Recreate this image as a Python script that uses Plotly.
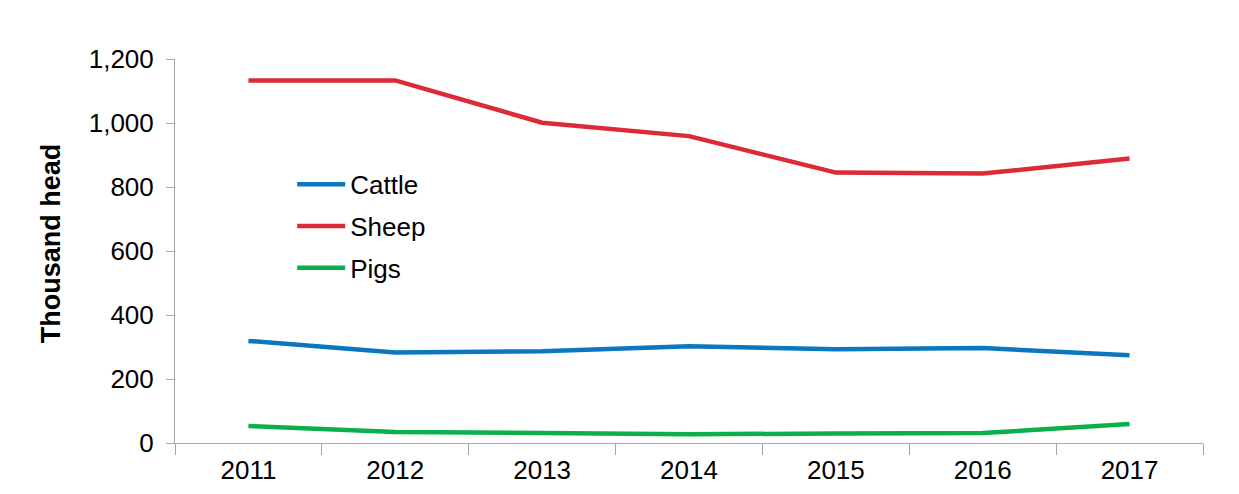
import plotly.graph_objects as go

# Livestock numbers by year (thousand head)
years = ["2011", "2012", "2013", "2014", "2015", "2016", "2017"]
cattle = [319, 283, 287, 302, 293, 297, 274]
sheep = [1133, 1133, 1001, 959, 845, 842, 889]
pigs = [53, 34, 31, 27, 30, 31, 59]

y_ticks = [0, 200, 400, 600, 800, 1000, 1200]
y_tick_labels = ["0", "200", "400", "600", "800", "1,000", "1,200"]

series = [
    ("Cattle", cattle, "#0A77BE"),
    ("Sheep", sheep, "#DC2A36"),
    ("Pigs", pigs, "#0BB04A"),
]

font_family = "Liberation Sans, Arial, sans-serif"
axis_grey = "#A6A6A6"

fig = go.Figure()
for name, values, colour in series:
    fig.add_trace(go.Scatter(
        x=years, y=values, name=name, mode="lines",
        legendgroup=name,
        line=dict(color=colour, width=4.5),
    ))

fig.update_layout(
    width=1239, height=494,
    margin=dict(l=175, r=36, t=59, b=51),
    paper_bgcolor="white", plot_bgcolor="white",
    font=dict(family=font_family, size=26, color="#000000"),
    showlegend=True,
    legend=dict(
        x=0.114, y=0.735, xanchor="left", yanchor="top",
        bgcolor="rgba(0,0,0,0)",
        font=dict(size=26, color="#000000"),
        itemwidth=48,
        tracegroupgap=5,
        traceorder="grouped",
    ),
)

# Rotated y-axis caption placed to the left of the tick labels
fig.add_annotation(
    text="<b>Thousand head</b>", textangle=-90,
    xref="paper", yref="paper", x=-0.1206, y=0.52,
    xanchor="center", yanchor="middle", showarrow=False,
    font=dict(size=27, color="#000000"),
)

fig.update_xaxes(
    type="category",
    range=[-0.5, 6.5],
    showgrid=False,
    showline=True, linecolor=axis_grey, linewidth=1,
    ticks="outside", tickson="boundaries", ticklen=11, tickcolor=axis_grey,
    tickfont=dict(size=26), ticklabelstandoff=4,
    automargin=False,
    fixedrange=True,
)
fig.update_yaxes(
    range=[0, 1200],
    tickvals=y_ticks, ticktext=y_tick_labels,
    showgrid=False, zeroline=False,
    showline=True, linecolor=axis_grey, linewidth=1,
    ticks="outside", ticklen=8, tickcolor=axis_grey,
    tickfont=dict(size=26), ticklabelstandoff=7,
    automargin=False,
    fixedrange=True,
)

fig.write_html("out.html")
